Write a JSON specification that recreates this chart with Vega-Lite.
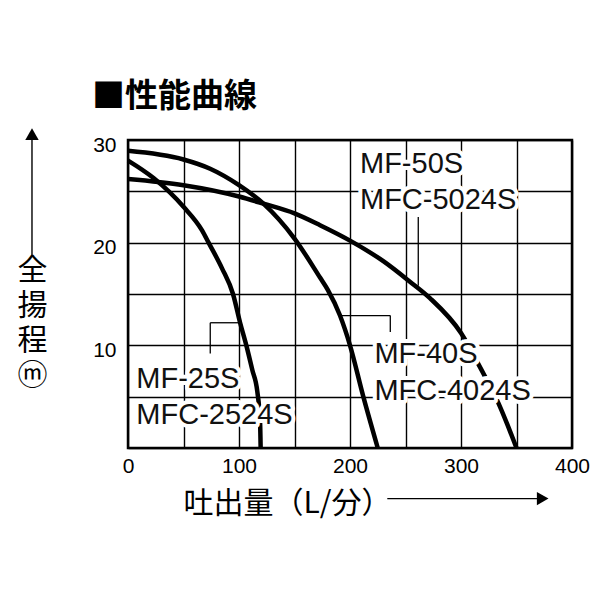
{
  "$schema": "https://vega.github.io/schema/vega-lite/v6.json",
  "width": 444,
  "height": 308,
  "autosize": {"type": "none"},
  "padding": {"left": 128, "top": 140, "right": 28, "bottom": 152},
  "background": "white",
  "title": {
    "text": "■性能曲線",
    "anchor": "start",
    "frame": "group",
    "dx": -36,
    "offset": 14,
    "font": "Noto Sans CJK JP",
    "fontSize": 33,
    "fontWeight": "bold",
    "color": "black"
  },
  "config": {
    "view": {"stroke": "black", "strokeWidth": 2.5},
    "font": "Liberation Sans"
  },
  "datasets": {
    "curves": [
      {"model": "MF-25S", "q": 0, "h": 28.0},
      {"model": "MF-25S", "q": 23, "h": 26.3},
      {"model": "MF-25S", "q": 50, "h": 23.5},
      {"model": "MF-25S", "q": 66.7, "h": 21.2},
      {"model": "MF-25S", "q": 72.6, "h": 20.0},
      {"model": "MF-25S", "q": 84.7, "h": 17.5},
      {"model": "MF-25S", "q": 94.6, "h": 15.0},
      {"model": "MF-25S", "q": 101, "h": 12.2},
      {"model": "MF-25S", "q": 106.6, "h": 10.0},
      {"model": "MF-25S", "q": 112, "h": 7.6},
      {"model": "MF-25S", "q": 116.5, "h": 5.5},
      {"model": "MF-25S", "q": 119, "h": 2.5},
      {"model": "MF-25S", "q": 119.5, "h": 0},
      {"model": "MF-40S", "q": 0, "h": 28.95},
      {"model": "MF-40S", "q": 50, "h": 28.1},
      {"model": "MF-40S", "q": 74, "h": 27.2},
      {"model": "MF-40S", "q": 100, "h": 25.6},
      {"model": "MF-40S", "q": 122, "h": 23.8},
      {"model": "MF-40S", "q": 150, "h": 20.4},
      {"model": "MF-40S", "q": 173, "h": 16.6},
      {"model": "MF-40S", "q": 180, "h": 15.4},
      {"model": "MF-40S", "q": 191, "h": 12.9},
      {"model": "MF-40S", "q": 200, "h": 10.0},
      {"model": "MF-40S", "q": 212, "h": 5.0},
      {"model": "MF-40S", "q": 225, "h": 0},
      {"model": "MF-50S", "q": 0, "h": 26.2},
      {"model": "MF-50S", "q": 50, "h": 25.6},
      {"model": "MF-50S", "q": 100, "h": 24.5},
      {"model": "MF-50S", "q": 122, "h": 23.8},
      {"model": "MF-50S", "q": 150, "h": 22.85},
      {"model": "MF-50S", "q": 173, "h": 21.7},
      {"model": "MF-50S", "q": 200, "h": 20.2},
      {"model": "MF-50S", "q": 230, "h": 18.2},
      {"model": "MF-50S", "q": 254, "h": 16.2},
      {"model": "MF-50S", "q": 272, "h": 14.6},
      {"model": "MF-50S", "q": 300, "h": 11.2},
      {"model": "MF-50S", "q": 317, "h": 7.9},
      {"model": "MF-50S", "q": 334, "h": 4.3},
      {"model": "MF-50S", "q": 350, "h": 0}
    ],
    "labels": [
      {"text": "MF-50S", "q": 209, "h": 26.8},
      {"text": "MFC-5024S", "q": 209, "h": 23.3},
      {"text": "MF-40S", "q": 222, "h": 8.3},
      {"text": "MFC-4024S", "q": 222, "h": 4.7},
      {"text": "MF-25S", "q": 7.5, "h": 5.8},
      {"text": "MFC-2524S", "q": 7.5, "h": 2.3}
    ],
    "leaders": [
      {"q": 261.5, "h": 22.5, "q2": 261.5, "h2": 15.8},
      {"q": 191.5, "h": 12.9, "q2": 236.3, "h2": 12.9},
      {"q": 236.3, "h": 12.9, "q2": 236.3, "h2": 11.3},
      {"q": 74.1, "h": 9.2, "q2": 74.1, "h2": 12.2},
      {"q": 74.1, "h": 12.2, "q2": 99.5, "h2": 12.2}
    ],
    "arrows": [
      {"q": 233.6, "h": -4.93, "q2": 372, "h2": -4.93},
      {"q": -86.5, "h": 18.8, "q2": -86.5, "h2": 30}
    ],
    "heads": [
      {"dir": "right", "q": 373.6, "h": -4.93},
      {"dir": "up", "q": -86.5, "h": 30.57}
    ]
  },
  "encoding": {
    "x": {
      "field": "q",
      "type": "quantitative",
      "scale": {"domain": [0, 400], "nice": false, "zero": false},
      "axis": {
        "values": [0, 50, 100, 150, 200, 250, 300, 350, 400],
        "grid": true,
        "gridColor": "black",
        "gridWidth": 1.4,
        "gridOpacity": 1,
        "domain": false,
        "ticks": false,
        "tickSize": 0,
        "labelExpr": "datum.value % 100 == 0 ? datum.label : ''",
        "labelFont": "Liberation Sans",
        "labelFontSize": 21,
        "labelColor": "black",
        "labelPadding": 7,
        "labelFlush": false,
        "labelOverlap": false,
        "labelBound": false,
        "title": "吐出量（L/分）",
        "titleFont": "Noto Sans CJK JP",
        "titleFontSize": 30,
        "titleFontWeight": "normal",
        "titleColor": "black",
        "titleAlign": "left",
        "titleBaseline": "alphabetic",
        "titleX": 55,
        "titleY": 64
      }
    },
    "y": {
      "field": "h",
      "type": "quantitative",
      "scale": {"domain": [0, 30], "nice": false, "zero": false},
      "axis": {
        "values": [0, 5, 10, 15, 20, 25, 30],
        "grid": true,
        "gridColor": "black",
        "gridWidth": 1.4,
        "gridOpacity": 1,
        "domain": false,
        "ticks": false,
        "tickSize": 0,
        "labelExpr": "datum.value % 10 == 0 && datum.value > 0 ? datum.label : ''",
        "labelFont": "Liberation Sans",
        "labelFontSize": 21,
        "labelColor": "black",
        "labelPadding": 12,
        "labelOffset": 5,
        "labelBaseline": "middle",
        "labelFlush": false,
        "labelOverlap": false,
        "labelBound": false,
        "title": ["全", "揚", "程", "ⓜ"],
        "titleFont": "Noto Sans CJK JP",
        "titleFontSize": 30,
        "titleFontWeight": "normal",
        "titleColor": "black",
        "titleAngle": 0,
        "titleAlign": "center",
        "titleBaseline": "top",
        "titleLineHeight": 35,
        "titleX": -96,
        "titleY": 115
      }
    }
  },
  "layer": [
    {
      "data": {"name": "leaders"},
      "mark": {"type": "rule", "color": "black", "strokeWidth": 1.3},
      "encoding": {
        "x2": {"field": "q2"},
        "y2": {"field": "h2"}
      }
    },
    {
      "data": {"name": "curves"},
      "mark": {
        "type": "line",
        "color": "black",
        "strokeWidth": 4.5,
        "strokeCap": "butt",
        "interpolate": "monotone"
      },
      "encoding": {
        "detail": {"field": "model", "type": "nominal"}
      }
    },
    {
      "data": {"name": "labels"},
      "mark": {
        "type": "text",
        "align": "left",
        "baseline": "alphabetic",
        "font": "Liberation Sans",
        "fontSize": 29,
        "color": "white",
        "stroke": "white",
        "strokeWidth": 8,
        "strokeJoin": "round"
      },
      "encoding": {
        "text": {"field": "text", "type": "nominal"}
      }
    },
    {
      "data": {"name": "labels"},
      "mark": {
        "type": "text",
        "align": "left",
        "baseline": "alphabetic",
        "font": "Liberation Sans",
        "fontSize": 29,
        "color": "#111111"
      },
      "encoding": {
        "text": {"field": "text", "type": "nominal"}
      }
    },
    {
      "data": {"name": "arrows"},
      "mark": {"type": "rule", "color": "black", "strokeWidth": 1.4},
      "encoding": {
        "x2": {"field": "q2"},
        "y2": {"field": "h2"}
      }
    },
    {
      "data": {"name": "heads"},
      "mark": {"type": "point", "filled": true, "color": "black", "opacity": 1, "size": 180},
      "encoding": {
        "shape": {
          "field": "dir",
          "type": "nominal",
          "scale": {"domain": ["right", "up"], "range": ["triangle-right", "triangle-up"]},
          "legend": null
        }
      }
    }
  ]
}
